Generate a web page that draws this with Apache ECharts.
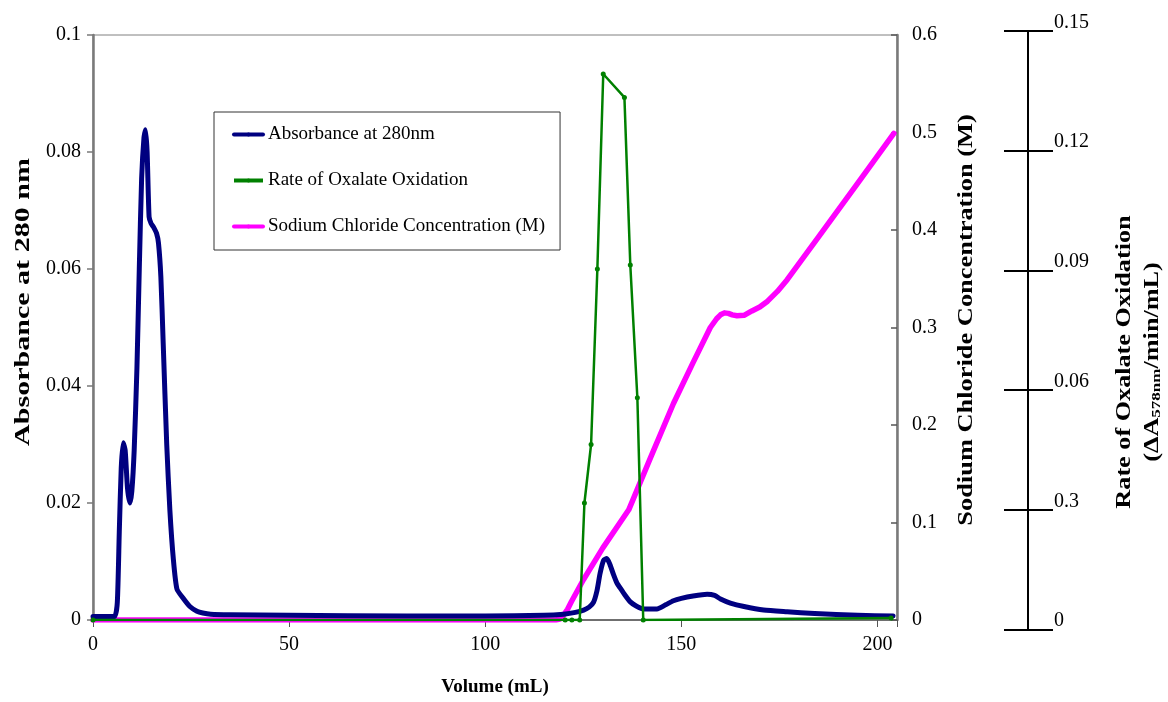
<!DOCTYPE html>
<html>
<head>
<meta charset="utf-8">
<script src="https://cdn.jsdelivr.net/npm/echarts@6/dist/echarts.min.js"></script>
<style>
html,body{margin:0;padding:0;background:#fff;}
#chart{width:1168px;height:702px;}
</style>
</head>
<body>
<div id="chart"></div>
<script>
// ---- Data ----
const absVolume = [0, 3, 5.5, 6.2, 6.7, 7.2, 7.7, 8.2, 8.8, 9.4, 9.9, 10.5, 11.2, 11.8, 12.4, 13.0, 13.4, 13.8, 14.3, 14.8, 15.4, 16.2, 16.7, 17.3, 17.9, 18.8, 19.6, 20.5, 21.4, 23.0, 24.7, 26.5, 28, 30, 35, 50, 80, 100, 115, 120, 123, 125.1, 126.5, 127.6, 128.5, 129.3, 130.2, 131.0, 131.8, 132.7, 133.6, 134.4, 135.5, 137, 138.5, 140.4, 143.8, 146, 148, 150, 153, 156.6, 158.5, 160, 162.5, 166, 171, 177, 184, 195, 204];
const absorbance = [0.0006, 0.0006, 0.0006, 0.003, 0.015, 0.026, 0.0303, 0.029, 0.0225, 0.0200, 0.022, 0.029, 0.043, 0.060, 0.0755, 0.0825, 0.0838, 0.080, 0.0689, 0.0678, 0.0672, 0.0661, 0.0644, 0.0587, 0.0473, 0.030, 0.0188, 0.0103, 0.0053, 0.0037, 0.0023, 0.0015, 0.0012, 0.0010, 0.0009, 0.0008, 0.0007, 0.0007, 0.0008, 0.0010, 0.0013, 0.0017, 0.0022, 0.0030, 0.0050, 0.0080, 0.0102, 0.0105, 0.0095, 0.0078, 0.0063, 0.0055, 0.0044, 0.0031, 0.0024, 0.0019, 0.0019, 0.0026, 0.0033, 0.0037, 0.0041, 0.0044, 0.0042, 0.0036, 0.0029, 0.0023, 0.0017, 0.0014, 0.0011, 0.0008, 0.0007];

const rateVolume = [0, 120.4, 122.1, 124.1, 125.3, 127.0, 128.6, 130.1, 135.5, 137.0, 138.8, 140.3, 203.5];
const oxidationRate = [0, 0, 0, 0, 0.030, 0.045, 0.090, 0.140, 0.134, 0.091, 0.057, 0, 0.0005];

const naclVolume = [0, 118, 119, 120, 121, 122, 125, 130, 136.6, 142, 148, 153, 157.4, 159, 160, 161, 162, 163, 164.2, 166, 168, 170, 172, 174.5, 177, 185, 195, 204.2];
const naclConc = [0, 0, 0.001, 0.005, 0.011, 0.019, 0.041, 0.074, 0.113, 0.165, 0.222, 0.264, 0.300, 0.309, 0.313, 0.315, 0.3145, 0.313, 0.312, 0.3125, 0.317, 0.321, 0.327, 0.337, 0.349, 0.393, 0.448, 0.499];

const seriesNames = ['Absorbance at 280nm', 'Rate of Oxalate Oxidation', 'Sodium Chloride Concentration (M)'];
const rateAxisLabels = ['0', '0.3', '0.06', '0.09', '0.12', '0.15'];

const pairs = (xs, ys) => xs.map((x, i) => [x, ys[i]]);

const serif = '"Liberation Serif", "Times New Roman", serif';
const chart = echarts.init(document.getElementById('chart'), null, {renderer: 'canvas'});

const option = {
  backgroundColor: '#fff',
  animation: false,
  grid: [
    {left: 93, right: 271, top: 35, bottom: 82, show: true, borderColor: '#808080', borderWidth: 1, containLabel: false},
    {left: 1004, width: 49, top: 31, height: 598.5, show: false, containLabel: false}
  ],
  legend: {
    data: seriesNames,
    orient: 'vertical',
    left: 214, top: 112,
    itemWidth: 29, itemHeight: 5, itemGap: 27,
    padding: [13, 15, 14, 18],
    borderColor: '#333', borderWidth: 1,
    backgroundColor: '#fff',
    lineStyle: {width: 4},
    textStyle: {fontFamily: serif, fontSize: 19, color: '#000'}
  },
  xAxis: [
    {
      type: 'value', gridIndex: 0, min: 0, max: 205, interval: 50,
      name: 'Volume (mL)', nameLocation: 'middle', nameGap: 58,
      nameTextStyle: {fontFamily: serif, fontSize: 19, fontWeight: 'bold', color: '#000'},
      axisLine: {show: true, onZero: false, lineStyle: {color: '#555', width: 1.5}},
      axisTick: {show: true, length: 7, lineStyle: {color: '#555'}},
      axisLabel: {fontFamily: serif, fontSize: 20, color: '#000', margin: 15,
        formatter: v => (v % 50 === 0 ? String(v) : '')},
      splitLine: {show: false}
    },
    {type: 'value', gridIndex: 1, min: 0, max: 1, show: false}
  ],
  yAxis: [
    {
      type: 'value', gridIndex: 0, min: 0, max: 0.1, interval: 0.02, position: 'left',
      axisLine: {show: true, lineStyle: {color: '#7a7a7a', width: 2.5}},
      axisTick: {show: true, length: 6, lineStyle: {color: '#7a7a7a', width: 1.5}},
      axisLabel: {fontFamily: serif, fontSize: 20, color: '#000', margin: 12},
      splitLine: {show: false}
    },
    {
      type: 'value', gridIndex: 0, min: 0, max: 0.6, interval: 0.1, position: 'right',
      axisLine: {show: true, lineStyle: {color: '#7a7a7a', width: 2.5}},
      axisTick: {show: true, inside: true, length: 6, lineStyle: {color: '#555', width: 1.5}},
      axisLabel: {fontFamily: serif, fontSize: 20, color: '#000', margin: 15},
      splitLine: {show: false}
    },
    {
      type: 'value', gridIndex: 0, min: 0, max: 0.15, show: false
    },
    {
      type: 'value', gridIndex: 1, min: 0, max: 0.15, interval: 0.03, position: 'right', offset: -24,
      axisLine: {show: true, lineStyle: {color: '#000', width: 2}},
      axisTick: {show: false},
      splitLine: {show: true, lineStyle: {color: '#000', width: 2}},
      axisLabel: {fontFamily: serif, fontSize: 20, color: '#000', margin: 25, verticalAlign: 'bottom',
        lineHeight: 17,
        formatter: v => rateAxisLabels[Math.round(v / 0.03)] || ''}
    }
  ],
  graphic: [
    {type: 'text', x: 24, y: 302, rotation: Math.PI / 2, scaleX: 1.43,
      style: {text: 'Absorbance at 280 nm', fill: '#000', font: 'bold 21px ' + serif, align: 'center', verticalAlign: 'middle'}},
    {type: 'text', x: 967, y: 320, rotation: Math.PI / 2, scaleX: 1.32,
      style: {text: 'Sodium Chloride Concentration (M)', fill: '#000', font: 'bold 20px ' + serif, align: 'center', verticalAlign: 'middle'}},
    {type: 'text', x: 1125, y: 362, rotation: Math.PI / 2, scaleX: 1.31,
      style: {text: 'Rate of Oxalate Oxidation', fill: '#000', font: 'bold 20px ' + serif, align: 'center', verticalAlign: 'middle'}},
    {type: 'text', x: 1153, y: 362, rotation: Math.PI / 2, scaleX: 1.31,
      style: {text: '{a|(ΔA}{s|578nm}{a|/min/mL)}', fill: '#000', align: 'center', verticalAlign: 'middle',
        rich: {
          a: {fontFamily: serif, fontWeight: 'bold', fontSize: 20, fill: '#000', color: '#000'},
          s: {fontFamily: serif, fontWeight: 'bold', fontSize: 13, fill: '#000', color: '#000', verticalAlign: 'bottom', padding: [6, 0, 0, 0]}
        }}}
  ],
  series: [
    {
      name: seriesNames[0], type: 'line', xAxisIndex: 0, yAxisIndex: 0,
      data: pairs(absVolume, absorbance),
      smooth: 0.2,
      symbol: 'circle', symbolSize: 4, showSymbol: false,
      lineStyle: {color: '#000080', width: 5, join: 'round', cap: 'round'},
      itemStyle: {color: '#000080'},
      z: 3
    },
    {
      name: seriesNames[1], type: 'line', xAxisIndex: 0, yAxisIndex: 2,
      data: pairs(rateVolume, oxidationRate),
      symbol: 'circle', symbolSize: 5, showSymbol: true,
      lineStyle: {color: '#008000', width: 2.5},
      itemStyle: {color: '#008000'},
      z: 4
    },
    {
      name: seriesNames[2], type: 'line', xAxisIndex: 0, yAxisIndex: 1,
      data: pairs(naclVolume, naclConc),
      smooth: false,
      symbol: 'circle', symbolSize: 4, showSymbol: false,
      lineStyle: {color: '#FF00FF', width: 5.5, join: 'round', cap: 'round'},
      itemStyle: {color: '#FF00FF'},
      z: 2
    }
  ]
};
chart.setOption(option);
</script>
</body>
</html>
